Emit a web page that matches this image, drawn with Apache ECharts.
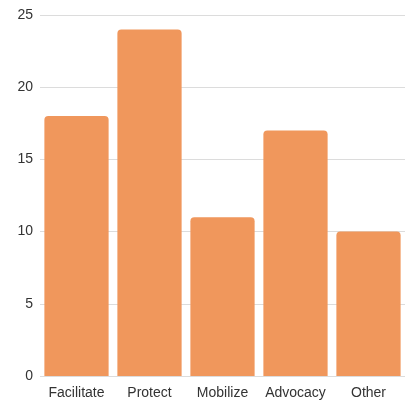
<!DOCTYPE html>
<html><head><meta charset="utf-8">
<script src="https://cdn.jsdelivr.net/npm/echarts@6/dist/echarts.min.js"></script>
<style>html,body{margin:0;padding:0;background:#fff}#c{width:405px;height:400px}</style>
</head><body><div id="c"></div>
<script>
var categories = ["Facilitate", "Protect", "Mobilize", "Advocacy", "Other"];
var values = [18, 24, 11, 17, 10];
var chart = echarts.init(document.getElementById('c'));
chart.setOption({
  animation: false,
  grid: {left: 40, right: 0, top: 15, bottom: 24, containLabel: false},
  xAxis: {
    type: 'category', data: categories,
    axisLine: {show: false}, axisTick: {show: false},
    axisLabel: {color: '#333', fontSize: 14, fontFamily: 'Liberation Sans', margin: 10, interval: 0}
  },
  yAxis: {
    type: 'value', min: 0, max: 25, interval: 5,
    axisLine: {show: false}, axisTick: {show: false},
    splitLine: {lineStyle: {color: '#dcdcdc'}},
    axisLabel: {color: '#333', fontSize: 14, fontFamily: 'Liberation Sans', margin: 7}
  },
  series: [{
    type: 'bar', data: values, barCategoryGap: '12%',
    itemStyle: {color: '#F0975C', borderRadius: [4, 4, 0, 0]}
  }]
});
</script></body></html>
